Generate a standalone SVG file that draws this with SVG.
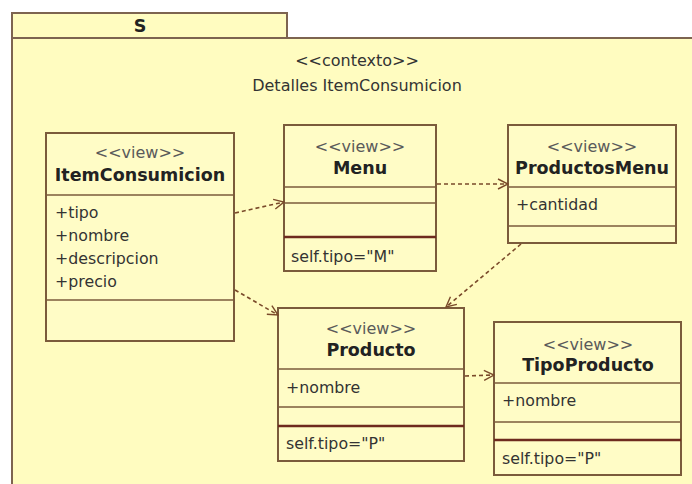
<svg xmlns="http://www.w3.org/2000/svg" width="692" height="484" viewBox="0 0 692 484">
  <style>
    .pkg { fill: #fffcc0; stroke: #7d6450; stroke-width: 2; }
    .box { fill: #fffcc6; stroke: #7b5b3b; stroke-width: 2; }
    .div { stroke: #7b5b3b; stroke-width: 1.6; }
    .cdiv { stroke: #6e2a1e; stroke-width: 2.6; }
    .st { font-family: "DejaVu Sans", Verdana, sans-serif; font-size: 16px; fill: #5a5a5a; text-anchor: middle; }
    .nm { font-family: "DejaVu Sans", Verdana, sans-serif; font-size: 17.5px; font-weight: bold; fill: #222; text-anchor: middle; }
    .at { font-family: "DejaVu Sans", Verdana, sans-serif; font-size: 15.8px; fill: #333; }
    .ctx { font-family: "DejaVu Sans", Verdana, sans-serif; font-size: 16px; fill: #333; text-anchor: middle; }
    .dep { fill: none; stroke: #7a4a2a; stroke-width: 1.6; stroke-dasharray: 4 3; }
  </style>
  <defs>
    <marker id="open" viewBox="0 0 12 12" refX="11" refY="6" markerWidth="12" markerHeight="12" markerUnits="userSpaceOnUse" orient="auto">
      <path d="M1,1 L11,6 L1,11" fill="none" stroke="#7a4a2a" stroke-width="1.4"/>
    </marker>
  </defs>

  <rect x="0" y="0" width="692" height="484" fill="#ffffff"/>

  <!-- package S -->
  <g id="package-S">
    <rect class="pkg" x="12" y="13" width="275" height="26"/>
    <rect class="pkg" x="12" y="38" width="690" height="460"/>
    <text x="140" y="32" class="nm">S</text>
    <text x="357" y="66" class="ctx">&lt;&lt;contexto&gt;&gt;</text>
    <text x="357" y="91" class="ctx">Detalles ItemConsumicion</text>
  </g>

  <!-- ItemConsumicion -->
  <g id="ItemConsumicion">
    <rect class="box" x="46" y="133" width="188" height="208"/>
    <line class="div" x1="46" y1="195" x2="234" y2="195"/>
    <line class="div" x1="46" y1="300" x2="234" y2="300"/>
    <text x="140" y="158" class="st">&lt;&lt;view&gt;&gt;</text>
    <text x="140" y="181" class="nm">ItemConsumicion</text>
    <text x="55" y="218" class="at">+tipo</text>
    <text x="55" y="241" class="at">+nombre</text>
    <text x="55" y="264" class="at">+descripcion</text>
    <text x="55" y="287" class="at">+precio</text>
  </g>

  <!-- Menu -->
  <g id="Menu">
    <rect class="box" x="284" y="125" width="152" height="146"/>
    <line class="div" x1="284" y1="187" x2="436" y2="187"/>
    <line class="div" x1="284" y1="203" x2="436" y2="203"/>
    <line class="cdiv" x1="284" y1="237" x2="436" y2="237"/>
    <text x="360" y="152" class="st">&lt;&lt;view&gt;&gt;</text>
    <text x="360" y="174" class="nm">Menu</text>
    <text x="291" y="262" class="at">self.tipo="M"</text>
  </g>

  <!-- ProductosMenu -->
  <g id="ProductosMenu">
    <rect class="box" x="508" y="125" width="168" height="118"/>
    <line class="div" x1="508" y1="187" x2="676" y2="187"/>
    <line class="div" x1="508" y1="226" x2="676" y2="226"/>
    <text x="592" y="152" class="st">&lt;&lt;view&gt;&gt;</text>
    <text x="592" y="174" class="nm">ProductosMenu</text>
    <text x="516" y="210" class="at">+cantidad</text>
  </g>

  <!-- Producto -->
  <g id="Producto">
    <rect class="box" x="278" y="308" width="186" height="153"/>
    <line class="div" x1="278" y1="369" x2="464" y2="369"/>
    <line class="div" x1="278" y1="407" x2="464" y2="407"/>
    <line class="cdiv" x1="278" y1="426" x2="464" y2="426"/>
    <text x="371" y="334" class="st">&lt;&lt;view&gt;&gt;</text>
    <text x="371" y="356" class="nm">Producto</text>
    <text x="286" y="393" class="at">+nombre</text>
    <text x="286" y="449" class="at">self.tipo="P"</text>
  </g>

  <!-- TipoProducto -->
  <g id="TipoProducto">
    <rect class="box" x="494" y="322" width="187" height="153"/>
    <line class="div" x1="494" y1="383" x2="681" y2="383"/>
    <line class="div" x1="494" y1="422" x2="681" y2="422"/>
    <line class="cdiv" x1="494" y1="440" x2="681" y2="440"/>
    <text x="588" y="350" class="st">&lt;&lt;view&gt;&gt;</text>
    <text x="588" y="371" class="nm">TipoProducto</text>
    <text x="502" y="406" class="at">+nombre</text>
    <text x="502" y="464" class="at">self.tipo="P"</text>
  </g>

  <!-- dependencies -->
  <g id="connectors">
    <path class="dep" d="M235,213 L284,202" marker-end="url(#open)"/>
    <path class="dep" d="M235,290 L278,315" marker-end="url(#open)"/>
    <path class="dep" d="M437,184 L508,184" marker-end="url(#open)"/>
    <path class="dep" d="M521,244 L446,307" marker-end="url(#open)"/>
    <path class="dep" d="M465,376 L494,375" marker-end="url(#open)"/>
  </g>
</svg>
